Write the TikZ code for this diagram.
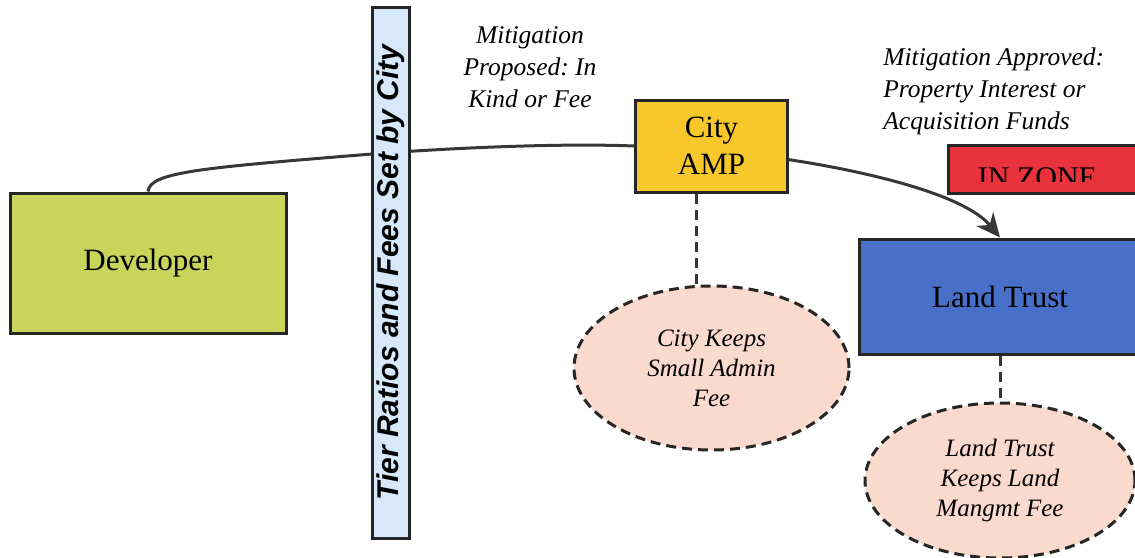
\documentclass[tikz,border=0pt]{standalone}
\usepackage{fontspec}
\setmainfont{Liberation Serif}
\setsansfont{Liberation Sans}
\usetikzlibrary{arrows.meta, positioning, shapes.geometric}
\tikzset{>=latex}
\frenchspacing

\definecolor{devgreen}{RGB}{201,213,90}
\definecolor{citygold}{RGB}{247,199,43}
\definecolor{trustblue}{RGB}{72,112,200}
\definecolor{zonered}{RGB}{232,50,60}
\definecolor{barblue}{RGB}{214,232,250}
\definecolor{feepeach}{RGB}{250,218,205}
\definecolor{linegray}{RGB}{55,55,55}

\begin{document}
\begin{tikzpicture}[x=0.5pt, y=-0.5pt,
            box/.style={rectangle, draw=black!85, line width=1.5pt, inner sep=0pt, align=center, font=\fontsize{15.5}{18.5}\selectfont},
            fee/.style={ellipse, draw=black!85, fill=feepeach, line width=1.5pt, dash pattern=on 5pt off 3pt, inner sep=0pt, align=center, font=\itshape\fontsize{12.5}{15}\selectfont},
            note/.style={inner sep=0pt, font=\itshape\fontsize{12.75}{16}\selectfont},
            link/.style={draw=linegray, line width=1.5pt},
            dashlink/.style={link, dash pattern=on 5pt off 3pt},
            arrow/.style={link, -{Stealth[length=12pt, width=11pt]}}
        ]

        \clip (0,0) rectangle (1135,557);

        % Main blocks
        \node[box, fill=devgreen, minimum width=138pt, minimum height=70pt] (developer) at (148,263) {Developer};
        \node[box, fill=citygold, minimum width=76pt, minimum height=46pt] (cityamp) at (711.5,146) {City\\AMP};
        \node[box, fill=trustblue, minimum width=141pt, minimum height=57.5pt] (landtrust) at (1000,296.5) {Land Trust};
        \node[box, fill=zonered, minimum width=97pt, minimum height=24pt] (inzone) at (1045,169) {};

        % In zone label (cut off at the bottom)
        \begin{scope}
            \clip (948,145) rectangle (1135,181);
            \node[anchor=base, inner sep=0pt, font=\fontsize{15}{18}\selectfont] (inzonetext) at (1037.5,187) {IN ZONE};
        \end{scope}

        % Fees kept
        \node[fee, minimum width=137.5pt, minimum height=82pt, below=45.5pt of cityamp] (cityfee) {City Keeps\\Small Admin\\Fee};
        \node[fee, minimum width=135pt, minimum height=77.5pt, below=23pt of landtrust] (trustfee) {Land Trust\\Keeps Land\\Mangmt Fee};

        % Developer to City, under the bar
        \coordinate (crossing) at (372,154);
        \draw[link] (developer.north) .. controls (150,172) and (200,168) .. (crossing)
            .. controls (450,148) and (560,143) .. (cityamp.west);

        % Tier bar
        \node[box, fill=barblue, rotate=90, minimum width=265.5pt, minimum height=18.5pt,
            font=\sffamily\bfseries\itshape\fontsize{15}{18}\selectfont] (tierbar) at (390.5,272.5) {Tier Ratios and Fees Set by City};

        % Notes
        \node[note, align=center, anchor=north] (proposed) at (530,26) {Mitigation\\Proposed: In\\Kind or Fee};
        \node[note, align=left, anchor=north west] (approved) at (883,47) {Mitigation Approved:\\Property Interest or\\Acquisition Funds};

        % Arrows
        \draw[arrow] (cityamp.-10) .. controls (870,172) and (965,195) .. (landtrust.north);
        \draw[dashlink] ([xshift=-7.5pt]cityamp.south) -- ([xshift=-7.5pt]cityfee.north);
        \draw[dashlink] (landtrust.south) -- (trustfee.north);

    \end{tikzpicture}
\end{document}
